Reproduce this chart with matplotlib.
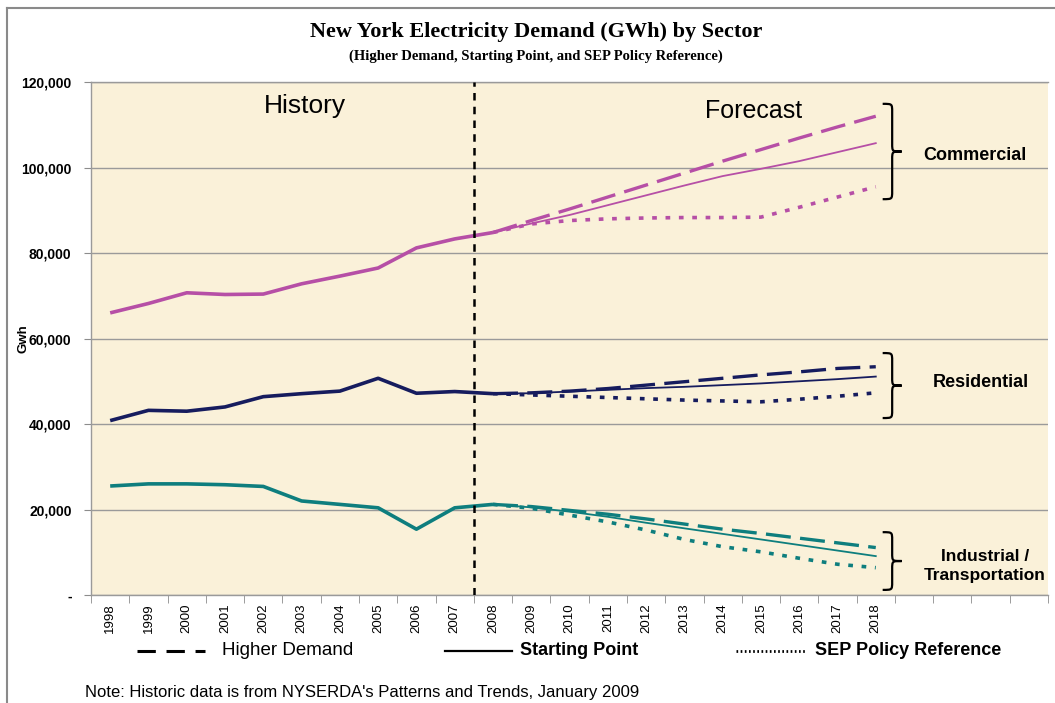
"""New York electricity demand by sector: history and three forecast cases."""
import matplotlib

matplotlib.use("Agg")
import matplotlib.pyplot as plt
from matplotlib.lines import Line2D
from matplotlib.path import Path
from matplotlib.patches import PathPatch

YEARS = [str(y) for y in range(1998, 2019)]
N_CATS = 25  # Excel category axis has 4 empty slots after 2018
SPLIT = 9.5  # boundary between 2007 and 2008

# history 1998-2008 (GWh)
COM_HIST = [66000, 68200, 70700, 70300, 70400, 72800, 74600, 76500, 81200, 83300, 84800]
RES_HIST = [40800, 43200, 43000, 44000, 46400, 47100, 47700, 50700, 47200, 47600, 47100]
IND_HIST = [25500, 26000, 26000, 25800, 25400, 22000, 21200, 20400, 15400, 20400, 21200]

# forecasts 2009-2018 (GWh)
COM_HIGH = [87600, 90300, 93100, 95900, 98700, 101500, 104200, 106900, 109500, 112000]
COM_START = [86900, 88900, 91200, 93500, 95800, 98000, 99700, 101500, 103600, 105700]
COM_SEP = [86800, 87600, 88000, 88200, 88300, 88300, 88400, 90700, 93100, 95500]

RES_HIGH = [47300, 47700, 48300, 49100, 49900, 50700, 51500, 52200, 53000, 53400]
RES_START = [47200, 47600, 48000, 48400, 48700, 49100, 49500, 50000, 50500, 51100]
RES_SEP = [46800, 46500, 46200, 45900, 45600, 45400, 45200, 45800, 46500, 47300]

IND_HIGH = [20700, 19800, 18900, 17800, 16600, 15400, 14400, 13300, 12200, 11100]
IND_START = [20500, 19500, 18300, 16900, 15600, 14300, 13000, 11700, 10400, 9100]
IND_SEP = [20300, 18700, 17100, 15200, 13000, 11300, 10100, 8600, 7200, 6400]

COLORS = {"com": "#B64FA6", "res": "#161C5E", "ind": "#0E7E7E"}


def brace(ax, x, y_top, y_bot, w_px=19, r_px=8, lw=1.6):
    bb = ax.get_window_extent()
    x0, x1 = ax.get_xlim()
    y0, y1 = ax.get_ylim()
    kx = (x1 - x0) / bb.width
    ky = (y1 - y0) / bb.height
    w = w_px * kx
    h = w / 2
    r = r_px * ky
    mid = (y_top + y_bot) / 2
    verts = [
        (x, y_top),
        (x + h, y_top), (x + h, y_top), (x + h, y_top - r),
        (x + h, mid + r),
        (x + h, mid), (x + h, mid), (x + w, mid),
        (x + h, mid), (x + h, mid), (x + h, mid - r),
        (x + h, y_bot + r),
        (x + h, y_bot), (x + h, y_bot), (x, y_bot),
    ]
    codes = ([Path.MOVETO] + [Path.CURVE4] * 3 + [Path.LINETO] + [Path.CURVE4] * 6
             + [Path.LINETO] + [Path.CURVE4] * 3)
    ax.add_patch(PathPatch(Path(verts, codes), fill=False, lw=lw, color="black",
                           clip_on=False, zorder=6))


def main():
    plt.rcParams["font.family"] = ["Liberation Sans", "DejaVu Sans"]

    fig = plt.figure(figsize=(10.55, 7.03), dpi=100)
    ax = fig.add_axes([0.0863, 0.1536, 0.9071, 0.7297])
    ax.set_facecolor("#FAF1D9")

    hist_x = list(range(len(COM_HIST)))
    fc_x = list(range(len(COM_HIST) - 1, len(YEARS)))

    sectors = [
        ("com", COM_HIST, COM_HIGH, COM_START, COM_SEP),
        ("res", RES_HIST, RES_HIGH, RES_START, RES_SEP),
        ("ind", IND_HIST, IND_HIGH, IND_START, IND_SEP),
    ]
    for key, hist, high, start, sep in sectors:
        c = COLORS[key]
        ax.plot(hist_x, hist, color=c, lw=2.6, solid_capstyle="butt", zorder=4)
        last = hist[-1]
        ax.plot(fc_x, [last] + high, color=c, lw=2.4, dashes=(7.5, 2.8), zorder=4)
        ax.plot(fc_x, [last] + start, color=c, lw=1.3, zorder=4)
        ax.plot(fc_x, [last] + sep, color=c, lw=2.6, dashes=(1.3, 2.4), zorder=4)

    ax.axvline(SPLIT, color="black", lw=1.8, dashes=(3, 2.5), zorder=5)

    ax.set_xlim(-0.5, N_CATS - 0.5)
    ax.set_ylim(0, 120000)
    ax.set_yticks(range(0, 120001, 20000))
    ax.set_yticklabels(["-"] + [f"{v:,}" for v in range(20000, 120001, 20000)],
                       fontweight="bold", fontsize=10)
    ax.tick_params(axis="y", length=5, color="#8C8C8C", pad=9)
    ax.yaxis.grid(True, color="#9A9A9A", lw=1.0)
    ax.set_axisbelow(True)

    ax.set_xticks(range(len(YEARS)))
    ax.set_xticklabels(YEARS, rotation=90, fontsize=9.5)
    ax.set_xticks([i - 0.5 for i in range(N_CATS + 1)], minor=True)
    ax.tick_params(axis="x", which="major", length=0, pad=6)
    ax.tick_params(axis="x", which="minor", length=6, color="#8C8C8C")

    for side in ("left", "bottom", "top"):
        ax.spines[side].set_color("#9A9A9A")
        ax.spines[side].set_linewidth(1.0)
    ax.spines["right"].set_visible(False)

    ax.set_ylabel("Gwh", fontweight="bold", fontsize=9.5, labelpad=-6)

    ax.text(5.1, 114300, "History", fontsize=19, ha="center", va="center")
    ax.text(16.8, 113300, "Forecast", fontsize=18, ha="center", va="center")

    brace(ax, 20.18, 114900, 92600)
    brace(ax, 20.18, 56600, 41400)
    brace(ax, 20.18, 14700, 1200)
    ax.text(22.6, 102900, "Commercial", fontsize=13, fontweight="bold",
            ha="center", va="center")
    ax.text(22.75, 49600, "Residential", fontsize=13, fontweight="bold",
            ha="center", va="center")
    ax.text(22.85, 6700, "Industrial /\nTransportation", fontsize=12.5,
            fontweight="bold", ha="center", va="center", linespacing=1.35)

    fig.text(0.508, 0.9545, "New York Electricity Demand (GWh) by Sector",
             family="Liberation Serif", fontweight="bold", fontsize=16,
             ha="center", va="center")
    fig.text(0.508, 0.9203, "(Higher Demand, Starting Point, and SEP Policy Reference)",
             family="Liberation Serif", fontweight="bold", fontsize=10.5,
             ha="center", va="center")

    ly = 0.074
    fig.add_artist(Line2D([0.1299, 0.1943], [ly, ly], color="black", lw=2.2,
                          dashes=(6, 3.5), transform=fig.transFigure))
    fig.text(0.2104, ly, "Higher Demand", fontsize=13.5, va="center")
    fig.add_artist(Line2D([0.4218, 0.4853], [ly, ly], color="black", lw=1.6,
                          transform=fig.transFigure))
    fig.text(0.4929, ly, "Starting Point", fontsize=13, fontweight="bold", va="center")
    fig.add_artist(Line2D([0.6976, 0.7630], [ly, ly], color="black", lw=2.0,
                          dashes=(0.6, 0.9), transform=fig.transFigure))
    fig.text(0.7725, ly, "SEP Policy Reference", fontsize=13, fontweight="bold",
             va="center")

    fig.text(0.0806, 0.0156, "Note: Historic data is from NYSERDA's Patterns and Trends, January 2009",
             fontsize=12, va="center")

    # outer chart frame
    fig.add_artist(Line2D([0.0066, 1.0], [0.9886, 0.9886], color="#8A8A8A", lw=1.5,
                          transform=fig.transFigure))
    fig.add_artist(Line2D([0.0066, 0.0066], [0.0, 0.9886], color="#8A8A8A", lw=1.5,
                          transform=fig.transFigure))

    fig.savefig("out.png", dpi=100)


if __name__ == "__main__":
    main()
